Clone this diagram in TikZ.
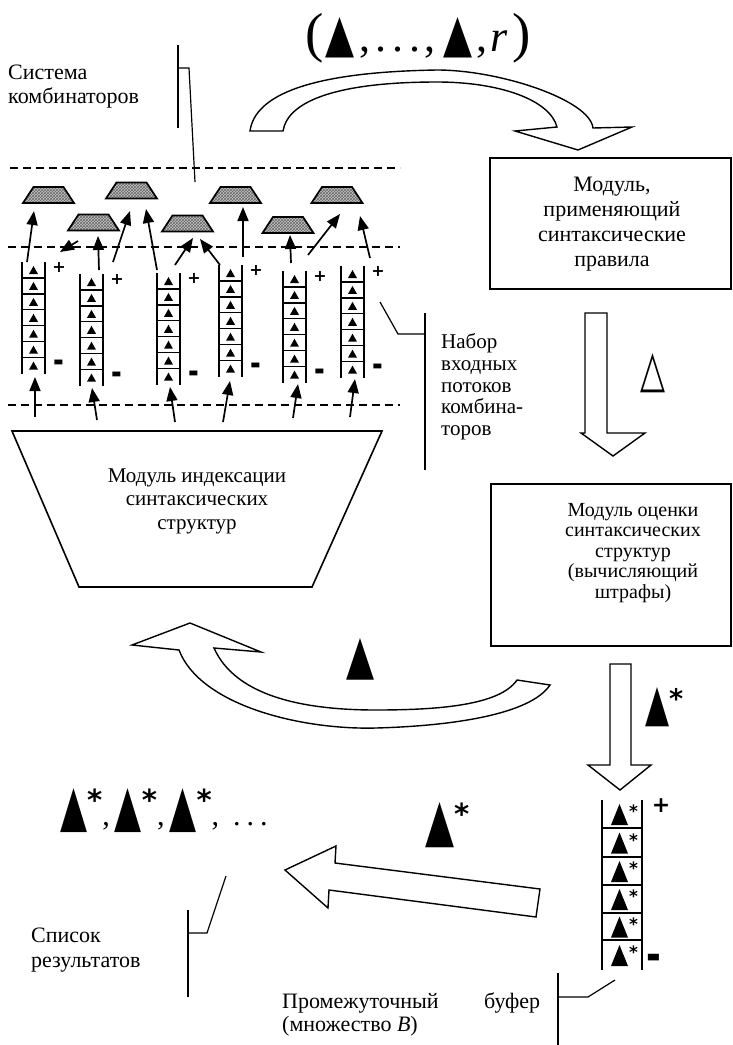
\documentclass[tikz,border=0pt]{standalone}
\usepackage{graphicx}
\usepackage{fontspec}
\setmainfont{Liberation Serif}
\newfontfamily\symf{DejaVu Sans}
\usetikzlibrary{arrows.meta,patterns}
\newcommand\fs[2]{\fontsize{#1}{#2}\selectfont}
\newcommand\Tri[2]{\resizebox{#1}{#2}{\symf ▲}}
\newcommand\Ast[2]{\raisebox{#2}{\symf\bfseries\fs{#1}{#1}*}}
\newcommand\Minus{\scalebox{0.8}[2.6]{−}}
\tikzset{
 txt/.style={inner sep=0pt, align=center},
 modbox/.style={draw, line width=1.6pt},
 hollow/.style={draw, line width=1.4pt, fill=white, line join=miter},
 leader/.style={line width=1.2pt},
 dash line/.style={line width=1.4pt, dash pattern=on 8pt off 5pt},
 flow/.style={line width=1.7pt, -{Triangle[length=14pt,width=11pt]}},
 comb/.style={draw, line width=1.7pt, preaction={fill=gray!45}, pattern=crosshatch, pattern color=black!60},
 rail/.style={line width=2.1pt},
 rung/.style={line width=1.4pt},
 pm/.style={inner sep=0pt, font=\symf\bfseries\fs{16}{16}},
 pmb/.style={inner sep=0pt, font=\symf\bfseries\fs{22}{22}},
}
\newcommand\comb[3]{\path[comb] (#2-25.5,#3+8) -- (#2+25.5,#3+8) -- (#2+15,#3-8) -- (#2-15,#3-8) -- cycle; \coordinate (#1) at (#2,#3);}
\newcommand\stack[3]{%
 \coordinate (#1) at (#2,#3);
 \draw[rail] (#2,#3) -- (#2,#3+111.5);
 \draw[rail] (#2+23,#3) -- (#2+23,#3+111.5);
 \foreach \k in {1,...,6} {\draw[rung] (#2,#3+\k*15.93) -- (#2+23,#3+\k*15.93);}
 \foreach \k in {0,...,6} {\fill (#2+7,#3+\k*15.93+12) -- (#2+16,#3+\k*15.93+12) -- (#2+11.5,#3+\k*15.93+4) -- cycle;}
 \node[pm] (#1p) at (#2+37,#3+5) {+};
 \node[pm] (#1m) at (#2+37,#3+106) {\Minus};
}
\newcommand\flw[5]{\coordinate (#1s) at (#2,#3); \coordinate (#1e) at (#4,#5); \draw[flow] (#1s) -- (#1e);}
\begin{document}
\begin{tikzpicture}[x=1pt,y=-1pt]
\useasboundingbox (0,0) rectangle (733,1045);

% ---- top label and curved arrow
\node[txt, anchor=base west, font=\fs{44}{44}] (toplab) at (305,51)
 {{\fs{55}{55}(}\kern2pt\Tri{29pt}{34pt}\kern5pt,\kern5pt.\kern6pt.\kern6pt.\kern4pt,\kern8pt\Tri{29pt}{34pt}\kern4pt,\kern3pt\textit{r}\kern5pt{\fs{55}{55})}};
\draw[hollow] (250,131) .. controls (255,95) and (310,72) .. (437,70)
  .. controls (500,70) and (590,100) .. (593,128) -- (632,127) -- (578,150) -- (515,131) -- (557,127)
  .. controls (550,100) and (500,82) .. (437,82) .. controls (340,82) and (288,100) .. (283,131) -- cycle;

% ---- Система комбинаторов
\node[txt, anchor=west, align=left, font=\fs{22}{24}] (sys) at (8,87) {Система\\комбинаторов};
\draw[leader] (178,45) -- (178,128);
\draw[leader] (178,68) -- (189,68) -- (195,182);

% ---- dashed lines
\draw[dash line] (10,168) -- (400,168);
\draw[dash line] (8,247) -- (400,247);
\draw[dash line] (8,405) -- (400,405);

% ---- combinators
\comb{c1}{48.5}{195}
\comb{c2}{131.5}{190.5}
\comb{c3}{235.5}{195}
\comb{c4}{337}{195}
\comb{c5}{93.5}{222.5}
\comb{c6}{187.5}{223.5}
\comb{c7}{288}{225}

% ---- stacks
\stack{s1}{22}{262}
\stack{s2}{80}{274}
\stack{s3}{157}{273}
\stack{s4}{219}{265}
\stack{s5}{283}{271}
\stack{s6}{341}{266}

% ---- arrows stacks -> combinators
\flw{ua}{27}{262}{34}{211}
\flw{ub}{78}{241}{60}{252}
\flw{uc}{99}{270}{98}{236}
\flw{ud}{113}{262}{130}{211}
\flw{ue}{157}{270}{146}{209}
\flw{uf}{175}{265}{193}{238}
\flw{ug}{220}{265}{200}{239}
\flw{uh}{243}{257}{243}{207}
\flw{ui}{291}{263}{290}{235}
\flw{uj}{308}{255}{340}{214}
\flw{uk}{370}{258}{360}{216}

% ---- arrows index module -> stacks
\flw{la}{35}{417}{35}{377}
\flw{lb}{97}{420}{92}{388}
\flw{lc}{175}{422}{170}{387}
\flw{ld}{223}{422}{230}{381}
\flw{le}{293}{418}{298}{384}
\flw{lf}{350}{417}{355}{379}

% ---- index module
\draw[modbox] (12,431) -- (382,431) -- (312,587) -- (79,587) -- cycle;
\node[txt, font=\fs{21}{23.5}] (idx) at (197,501) {Модуль индексации\\синтаксических\\структур};

% ---- Набор входных потоков
\draw[leader] (425,313) -- (425,470);
\draw[leader] (425,334) -- (398,334) -- (380,302);
\node[txt, anchor=west, align=left, font=\fs{21}{21.7}] (nab) at (441,387) {Набор\\входных\\потоков\\комбина-\\торов};

% ---- module 1
\node[modbox, anchor=north west, minimum width=241pt, minimum height=131pt, inner sep=0pt] (m1) at (489,157) {};
\node[txt, font=\fs{22}{25}] (m1t) at (612,224) {Модуль,\\применяющий\\синтаксические\\правила};

% ---- arrow module 1 -> module 2
\draw[hollow] (585,313) -- (607,313) -- (607,433) -- (645,433) -- (613,456) -- (581,433) -- (585,433) -- cycle;
\node[txt, anchor=south west] (delta) at (640,393) {\resizebox{25pt}{33pt}{\symf △}};

% ---- module 2
\node[modbox, anchor=north west, minimum width=240pt, minimum height=162pt, inner sep=0pt] (m2) at (490,483) {};
\node[txt, font=\fs{20}{20.5}] (m2t) at (633,553) {Модуль оценки\\синтаксических\\структур\\(вычисляющий\\штрафы)};

% ---- arrow module 2 -> buffer
\draw[hollow] (610,664) -- (631,664) -- (631,765) -- (651,765) -- (620,790) -- (588,765) -- (610,765) -- cycle;
\node[txt, anchor=base west] (lab2) at (645,720) {\Tri{24pt}{33pt}\Ast{27}{12pt}};

% ---- lower curved arrow back to index module
\draw[hollow] (517,680) .. controls (500,705) and (440,710) .. (376,710)
  .. controls (300,710) and (235,695) .. (214,648) -- (261,652) -- (190,623) -- (132,645) -- (179,650)
  .. controls (200,705) and (300,730) .. (376,728) .. controls (450,726) and (530,715) .. (550,685) -- cycle;
\node[txt, anchor=south west] (lab3) at (346,680) {\Tri{28pt}{35pt}};

% ---- buffer
\draw[rail] (602,800) -- (602,970);
\draw[rail] (642,800) -- (642,970);
\foreach \yy in {828,857,885,913,940} {\draw[rung] (602,\yy) -- (642,\yy);}
\foreach \yy/\nm in {804/b1,832.5/b2,861/b3,889/b4,916.5/b5,945/b6} {
  \fill (611,\yy+21) -- (628,\yy+21) -- (619.5,\yy) -- cycle;
  \node[txt, anchor=north west] (\nm) at (629,\yy+1) {\symf\bfseries\fs{17}{17}*};}
\node[pmb] (bp) at (661,806) {+};
\node[pmb] (bm) at (654,965) {\Minus};

% ---- big left arrow
\draw[hollow] (285,870) -- (336,846) -- (335,863) -- (540,889) -- (536,917) -- (329,890) -- (328,908) -- cycle;
\node[txt, anchor=base west] (lab4) at (425,840) {\Tri{29pt}{38pt}\Ast{29}{16pt}};

% ---- result list
\node[txt, anchor=base west, font=\fs{30}{30}] (res) at (60,825)
 {\Tri{27pt}{37pt}\Ast{29}{15pt},\kern5pt\Tri{27pt}{37pt}\Ast{29}{15pt},\kern5pt\Tri{27pt}{37pt}\Ast{29}{15pt},\kern14pt.\kern6pt.\kern6pt.};

% ---- Список результатов
\draw[leader] (188,910) -- (188,997);
\draw[leader] (188,933) -- (207,933) -- (226,876);
\node[txt, anchor=west, align=left, font=\fs{22}{25}] (spis) at (31,950) {Список\\результатов};

% ---- Промежуточный буфер
\draw[leader] (558,973) -- (558,1045);
\draw[leader] (558,997) -- (588,997) -- (615,980);
\node[txt, anchor=base west, font=\fs{22}{25}] (prom) at (282,1008) {Промежуточный};
\node[txt, anchor=base west, font=\fs{22}{25}] (buf) at (484,1008) {буфер};
\node[txt, anchor=base west, font=\fs{22}{25}] (mnoz) at (282,1031) {(множество \textit{B})};
\end{tikzpicture}
\end{document}
